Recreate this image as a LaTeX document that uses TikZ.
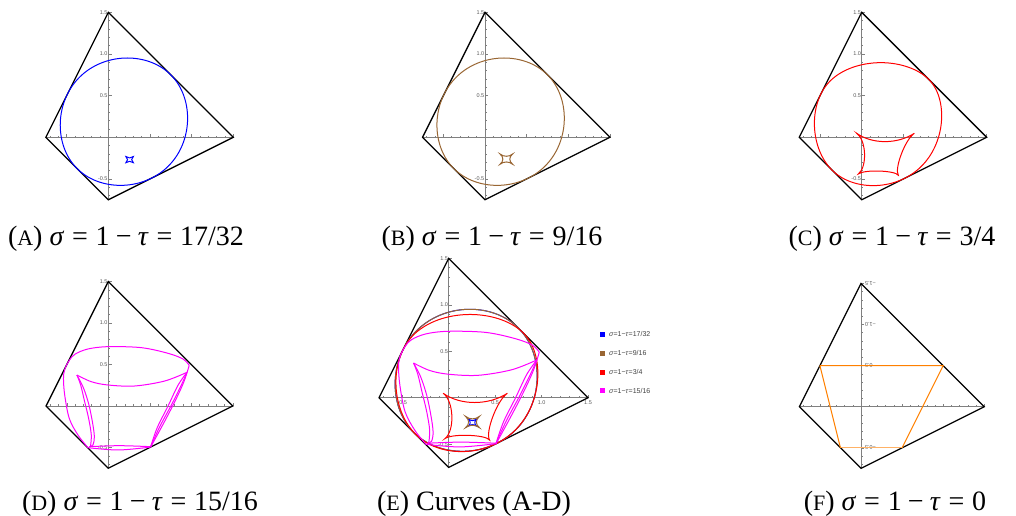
\documentclass[tikz,border=0pt]{standalone}
\usepackage{fontspec}
\setmainfont{Liberation Serif}
\newfontfamily\labfont{Liberation Sans}
\definecolor{mbrown}{rgb}{0.6,0.4,0.2}
\definecolor{morange}{rgb}{1,0.5,0}
\definecolor{mmag}{rgb}{1,0,1}
\definecolor{mred}{rgb}{1,0,0}
\definecolor{mblue}{rgb}{0,0,1}
\definecolor{axgray}{rgb}{0.5,0.5,0.5}
\tikzset{
 axisline/.style={draw=axgray, line width=0.8pt},
 quad/.style={draw=black, line width=1.25pt, line join=miter},
 crv/.style={line width=1pt},
 lab/.style={font=\labfont\fontsize{5.5}{6}\selectfont, text=black!65, inner sep=0.6pt},
 captext/.style={font=\fontsize{28}{32}\selectfont, inner sep=0pt, anchor=base},
 legtext/.style={font=\labfont\fontsize{7}{8}\selectfont, text=black!75, inner sep=0pt, anchor=west},
 declare function={
  hA(\t)=0.1875*(cos(\t)+sin(\t))+0.7697+0.0206*sin(2*\t)-0.0052*cos(4*\t);
  dA(\t)=0.1875*(cos(\t)-sin(\t))+0.0412*cos(2*\t)+0.0208*sin(4*\t);
  hC(\t)=0.193*cos(\t)+0.1715*sin(\t)+0.7617+0.013*cos(2*\t)+0.0231*sin(2*\t)+0.003*cos(3*\t)+0.0135*sin(3*\t)-0.0107*cos(4*\t);
  dC(\t)=-0.193*sin(\t)+0.1715*cos(\t)-0.026*sin(2*\t)+0.0462*cos(2*\t)-0.009*sin(3*\t)+0.0405*cos(3*\t)+0.0428*sin(4*\t);
 },
}
\newcommand{\scl}[1]{{\fontsize{22}{26}\selectfont #1}}
\newcommand{\eqs}{\hspace{0.28em}=\hspace{0.28em}}
\newcommand{\mns}{\hspace{0.22em}−\hspace{0.22em}}
\newcommand{\frameaxes}{%
 \draw[axisline] (-0.75,0) -- (1.5,0);
 \draw[axisline] (0,-0.75) -- (0,1.5);
 \foreach \i in {-7,...,15} {
   \draw[axisline,line width=0.5pt] (\i/10,0) -- ++(0,1.6pt);
   \draw[axisline,line width=0.5pt] (0,\i/10) -- ++(1.6pt,0);
 }
 \foreach \v in {-0.5,0.5,1,1.5} {
   \draw[axisline,line width=0.6pt] (\v,0) -- ++(0,3.2pt);
   \draw[axisline,line width=0.6pt] (0,\v) -- ++(3.2pt,0);
 }
 \draw[quad] (0,1.5) -- (1.5,0) -- (0,-0.75) -- (-0.75,0) -- cycle;
}
\newcommand{\ylabels}[1]{%
 \node[lab,anchor=east] (#1y15) at (0,1.5) {1.5};
 \node[lab,anchor=east] (#1y10) at (0,1.0) {1.0};
 \node[lab,anchor=east] (#1y05) at (0,0.5) {0.5};
 \node[lab,anchor=east] (#1ym05) at (0,-0.5) {-0.5};
}
% ---------- curves (data coordinates) ----------
\newcommand{\ovalAB}[1]{%
 \draw[crv,#1] plot[domain=0:360,samples=145,variable=\t,smooth]
   ({hA(\t)*cos(\t)-dA(\t)*sin(\t)},{hA(\t)*sin(\t)+dA(\t)*cos(\t)}) -- cycle;
}
\newcommand{\sqastroid}[5]{% color, cx, cy, a, b
 \draw[crv,#1] ({#2-#4},{#3+#5})
  .. controls ({#2-0.4*#4},{#3+0.4*#5}) and ({#2+0.4*#4},{#3+0.4*#5}) .. ({#2+#4},{#3+#5})
  .. controls ({#2+0.4*#4},{#3+0.4*#5}) and ({#2+0.4*#4},{#3-0.4*#5}) .. ({#2+#4},{#3-#5})
  .. controls ({#2+0.4*#4},{#3-0.4*#5}) and ({#2-0.4*#4},{#3-0.4*#5}) .. ({#2-#4},{#3-#5})
  .. controls ({#2-0.4*#4},{#3-0.4*#5}) and ({#2-0.4*#4},{#3+0.4*#5}) .. cycle;
}
\newcommand{\curveA}{\ovalAB{mblue}\sqastroid{mblue}{0.256}{-0.268}{0.045}{0.037}}
\newcommand{\curveB}{\ovalAB{mbrown}\sqastroid{mbrown}{0.256}{-0.262}{0.076}{0.062}}
\newcommand{\curveC}{%
 \draw[crv,mred] plot[domain=0:360,samples=145,variable=\t,smooth]
   ({hC(\t)*cos(\t)-dC(\t)*sin(\t)},{hC(\t)*sin(\t)+dC(\t)*cos(\t)}) -- cycle;
 \draw[crv,mred] (-0.06,0.048)
  .. controls (0.125,-0.085) and (0.429,-0.085) .. (0.632,0.048)
  .. controls (0.523,-0.023) and (0.389,-0.376) .. (0.44,-0.456)
  .. controls (0.403,-0.397) and (0.028,-0.385) .. (-0.04,-0.44)
  .. controls (0.0685,-0.3525) and (0.0555,-0.0353) .. cycle;
}
\newcommand{\curveD}{%
 % outer boundary
 \draw[crv,mmag] plot[smooth,tension=0.55] coordinates {(0.975,0.49) (0.90,0.566) (0.719,0.635) (0.398,0.703) (-0.004,0.715) (-0.245,0.687) (-0.40,0.625) (-0.47,0.55) (-0.525,0.44) (-0.54,0.33) (-0.525,0.13) (-0.47,-0.15) (-0.365,-0.35) (-0.245,-0.502)};
 \draw[crv,mmag] plot[smooth,tension=0.55] coordinates {(0.51,-0.495) (0.66,-0.22) (0.80,0.05) (0.91,0.29) (0.975,0.49)};
 \draw[crv,mmag] plot[smooth,tension=0.55] coordinates {(-0.245,-0.502) (0.12,-0.53) (0.51,-0.495)};
 % inner branches
 \draw[crv,mmag] plot[smooth,tension=0.55] coordinates {(-0.23,-0.49) (0.13,-0.478) (0.51,-0.49)};
 \draw[crv,mmag] plot[smooth,tension=0.55] coordinates {(-0.378,0.373) (-0.205,0.293) (-0.004,0.253) (0.317,0.241) (0.679,0.301) (0.948,0.406)};
 \draw[crv,mmag] plot[smooth,tension=0.55] coordinates {(-0.378,0.373) (-0.333,0.253) (-0.285,0.052) (-0.237,-0.149) (-0.205,-0.349) (-0.215,-0.49)};
 \draw[crv,mmag] plot[smooth,tension=0.55] coordinates {(-0.378,0.373) (-0.30,0.22) (-0.235,0.02) (-0.19,-0.2) (-0.168,-0.37) (-0.185,-0.47) (-0.23,-0.49)};
 \draw[crv,mmag] plot[smooth,tension=0.55] coordinates {(0.948,0.406) (0.88,0.253) (0.76,0.012) (0.62,-0.249) (0.51,-0.49)};
 \draw[crv,mmag] plot[smooth,tension=0.55] coordinates {(0.948,0.406) (0.84,0.25) (0.72,0.0) (0.59,-0.26) (0.51,-0.49)};
}
\begin{document}
\begin{tikzpicture}[x=1pt,y=1pt]
\useasboundingbox (0,0) rectangle (1016,515);
% (A)
\begin{scope}[shift={(108.3pt,377.7pt)},x=83.3pt,y=83.3pt]
 \frameaxes \ylabels{a}
 \curveA
\end{scope}
% (B)
\begin{scope}[shift={(485pt,377.7pt)},x=83.3pt,y=83.3pt]
 \frameaxes \ylabels{b}
 \curveB
\end{scope}
% (C)
\begin{scope}[shift={(861.7pt,377.7pt)},x=83.3pt,y=83.3pt]
 \frameaxes \ylabels{c}
 \curveC
\end{scope}
% (D)
\begin{scope}[shift={(108.3pt,109pt)},x=83pt,y=83pt]
 \frameaxes \ylabels{d}
 \curveD
\end{scope}
% (E)
\begin{scope}[shift={(448.7pt,117.3pt)},x=92.9pt,y=92.9pt]
 \frameaxes \ylabels{e}
 \node[lab,anchor=north] (exm05) at (-0.5,-0.02) {-0.5};
 \node[lab,anchor=north] (ex05) at (0.5,-0.02) {0.5};
 \node[lab,anchor=north] (ex10) at (1.0,-0.02) {1.0};
 \node[lab,anchor=north] (ex15) at (1.5,-0.02) {1.5};
 \curveA \curveB \curveC \curveD
\end{scope}
% legend of (E)
\fill[mblue] (600,178.5) rectangle ++(5,5);
\node[legtext] (l1) at (609,181) {\textit{σ}=1−\textit{τ}=17/32};
\fill[mbrown] (600,159.5) rectangle ++(5,5);
\node[legtext] (l2) at (609,162) {\textit{σ}=1−\textit{τ}=9/16};
\fill[mred] (600,140.5) rectangle ++(5,5);
\node[legtext] (l3) at (609,143) {\textit{σ}=1−\textit{τ}=3/4};
\fill[mmag] (600,122) rectangle ++(5,5);
\node[legtext] (l4) at (609,124.5) {\textit{σ}=1−\textit{τ}=15/16};
% (F)
\begin{scope}[shift={(861pt,108.3pt)},x=82.2pt,y=82.2pt]
 \frameaxes
 \node[lab,rotate=180,anchor=east] (fy15) at (0.04,1.5) {−1.5};
 \node[lab,rotate=180,anchor=east] (fy10) at (0.04,1.0) {−1.0};
 \node[lab,rotate=180,anchor=east] (fy05) at (0.04,0.5) {0.5};
 \node[lab,rotate=180,anchor=east] (fym05) at (0.04,-0.5) {−0.5};
 \draw[crv,morange] (-0.5,0.5) -- (1,0.5) -- (0.5,-0.5);
 \draw[crv,morange!60] (0.5,-0.5) -- (-0.25,-0.5);
 \draw[crv,morange] (-0.25,-0.5) -- (-0.5,0.5);
\end{scope}
% captions
\node[captext] (capA) at (126,270) {(\scl{A}) \textit{σ}\eqs 1\mns\textit{τ}\eqs 17/32};
\node[captext] (capB) at (492,270) {(\scl{B}) \textit{σ}\eqs 1\mns\textit{τ}\eqs 9/16};
\node[captext] (capC) at (892,270) {(\scl{C}) \textit{σ}\eqs 1\mns\textit{τ}\eqs 3/4};
\node[captext] (capD) at (140,5) {(\scl{D}) \textit{σ}\eqs 1\mns\textit{τ}\eqs 15/16};
\node[captext] (capE) at (474,5) {(\scl{E}) Curves (A-D)};
\node[captext] (capF) at (895,5) {(\scl{F}) \textit{σ}\eqs 1\mns\textit{τ}\eqs 0};
\end{tikzpicture}
\end{document}
